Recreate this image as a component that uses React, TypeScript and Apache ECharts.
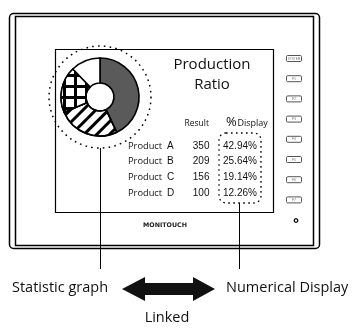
import React, { useEffect, useRef } from "react";
import * as echarts from "echarts";

const products = ["A", "B", "C", "D"];
const results = [350, 209, 156, 100];
const percentLabels = ["42.94%", "25.64%", "19.14%", "12.26%"];
const buttonLabels = ["SYSTEM", "F1", "F2", "F3", "F4", "F5", "F6", "F7"];
const titleLines = ["Production", "Ratio"];
const bottomLabels = { left: "Statistic graph", right: "Numerical Display", link: "Linked" };

const SANS = "'Open Sans', 'Noto Sans', sans-serif";
const ARIAL = "'Liberation Sans', Arial, sans-serif";

export default function App() {
  const ref = useRef<HTMLDivElement>(null);
  useEffect(() => {
    if (!ref.current) return;
    const chart = echarts.init(ref.current, null, { renderer: "svg" });

    const sliceStyles: any[] = [
      { color: "#5a5a5a" },
      {
        color: "#ffffff",
        decal: {
          symbol: "rect",
          symbolSize: 1,
          color: "#000",
          dashArrayX: [1, 0],
          dashArrayY: [2.6, 5.2],
          rotation: -Math.PI / 4,
        },
      },
      {
        color: "#000000",
        decal: {
          symbol: "rect",
          symbolSize: 1,
          color: "#fff",
          dashArrayX: [8, 2.4],
          dashArrayY: [8, 2.4],
          rotation: 0,
        },
      },
      { color: "#ffffff" },
    ];

    const rowY = (i: number) => 145 + i * 15.7;
    const graphics: any[] = [];
    // device frame
    graphics.push({ type: "rect", shape: { x: 9.5, y: 13.5, width: 310, height: 235, r: 4 }, style: { fill: "none", stroke: "#000", lineWidth: 1.5 } });
    graphics.push({ type: "rect", shape: { x: 15.5, y: 16.5, width: 298, height: 229 }, style: { fill: "none", stroke: "#000", lineWidth: 1.5 } });
    // screen
    graphics.push({ type: "rect", shape: { x: 55.5, y: 49.5, width: 218, height: 163 }, style: { fill: "none", stroke: "#000", lineWidth: 1.2 } });
    // dotted circle around graph
    graphics.push({ type: "circle", shape: { cx: 100, cy: 97, r: 51 }, style: { fill: "none", stroke: "#000", lineWidth: 1.5, lineDash: [1.6, 4.2] } });
    // dotted rect around percents
    graphics.push({ type: "rect", shape: { x: 219, y: 133, width: 42, height: 70, r: 7 }, style: { fill: "none", stroke: "#000", lineWidth: 1.3, lineDash: [1.6, 3.4] } });
    // title
    titleLines.forEach((t, i) => {
      graphics.push({ type: "text", x: 212, y: 63 + i * 19.5, style: { text: t, fontSize: 15, fontFamily: SANS, fill: "#111", align: "center", verticalAlign: "middle" } });
    });
    // headers
    graphics.push({ type: "text", x: 209, y: 122, style: { text: "Result", fontSize: 8.5, fontFamily: SANS, fill: "#111", align: "right", verticalAlign: "middle" } });
    graphics.push({ type: "text", x: 226, y: 121, style: { text: "%", fontSize: 13, fontFamily: SANS, fill: "#111", align: "left", verticalAlign: "middle" } });
    graphics.push({ type: "text", x: 237.5, y: 122, style: { text: "Display", fontSize: 9, fontFamily: SANS, fill: "#111", align: "left", verticalAlign: "middle" } });
    // rows
    products.forEach((p, i) => {
      const y = rowY(i);
      graphics.push({ type: "text", x: 128, y, style: { text: "Product", fontSize: 9.3, fontFamily: SANS, fill: "#111", align: "left", verticalAlign: "middle" } });
      graphics.push({ type: "text", x: 167, y, style: { text: p, fontSize: 10, fontFamily: ARIAL, fill: "#111", align: "left", verticalAlign: "middle" } });
      graphics.push({ type: "text", x: 209.5, y, style: { text: String(results[i]), fontSize: 10, fontFamily: ARIAL, fill: "#111", align: "right", verticalAlign: "middle" } });
      graphics.push({ type: "text", x: 223, y, style: { text: percentLabels[i], fontSize: 10, fontFamily: ARIAL, fill: "#111", align: "left", verticalAlign: "middle" } });
    });
    // buttons
    buttonLabels.forEach((b, i) => {
      const cy = 58.5 + i * 20.2;
      graphics.push({ type: "rect", shape: { x: 286.5, y: cy - 3, width: 15, height: 6, r: 1.2 }, style: { fill: "#fff", stroke: "#555", lineWidth: 1 } });
      graphics.push({ type: "text", x: 294, y: cy, style: { text: b, fontSize: b.length > 2 ? 3 : 3.6, fontFamily: ARIAL, fill: "#777", align: "center", verticalAlign: "middle" } });
    });
    graphics.push({ type: "circle", shape: { cx: 296, cy: 220.5, r: 1.8 }, style: { fill: "#fff", stroke: "#000", lineWidth: 1.2 } });
    // logo text
    graphics.push({ type: "text", x: 165, y: 224, style: { text: "MONITOUCH", fontSize: 6.3, fontWeight: 900, fontFamily: "'DejaVu Sans', sans-serif", fill: "#222", align: "center", verticalAlign: "middle" } });
    // leader lines
    graphics.push({ type: "line", shape: { x1: 100.5, y1: 148, x2: 100.5, y2: 269 }, style: { stroke: "#000", lineWidth: 1 } });
    graphics.push({ type: "line", shape: { x1: 239.5, y1: 203, x2: 239.5, y2: 269 }, style: { stroke: "#000", lineWidth: 1 } });
    // bottom labels
    graphics.push({ type: "text", x: 12, y: 286, style: { text: bottomLabels.left, fontSize: 14.5, fontFamily: SANS, fill: "#111", align: "left", verticalAlign: "middle" } });
    graphics.push({ type: "text", x: 226, y: 286, style: { text: bottomLabels.right, fontSize: 14.5, fontFamily: SANS, fill: "#111", align: "left", verticalAlign: "middle" } });
    graphics.push({ type: "text", x: 167, y: 316, style: { text: bottomLabels.link, fontSize: 14.5, fontFamily: SANS, fill: "#111", align: "center", verticalAlign: "middle" } });
    // double arrow
    graphics.push({
      type: "polygon",
      shape: {
        points: [
          [122, 289], [145, 277], [145, 283], [193, 283], [193, 277], [215, 289],
          [193, 301], [193, 295], [145, 295], [145, 301],
        ],
      },
      style: { fill: "#111", stroke: "none" },
    });

    chart.setOption({
      animation: false,
      graphic: { elements: graphics },
      series: [
        {
          type: "pie",
          center: [100, 97],
          radius: [14, 39],
          startAngle: 90,
          clockwise: true,
          silent: true,
          label: { show: false },
          labelLine: { show: false },
          itemStyle: { borderColor: "#000", borderWidth: 1.6 },
          data: products.map((p, i) => ({
            name: "Product " + p,
            value: results[i],
            itemStyle: sliceStyles[i],
          })),
        },
      ],
    });
    return () => chart.dispose();
  }, []);
  return <div ref={ref} style={{ position: "fixed", left: 0, top: 0, width: 353, height: 329 }} />;
}
